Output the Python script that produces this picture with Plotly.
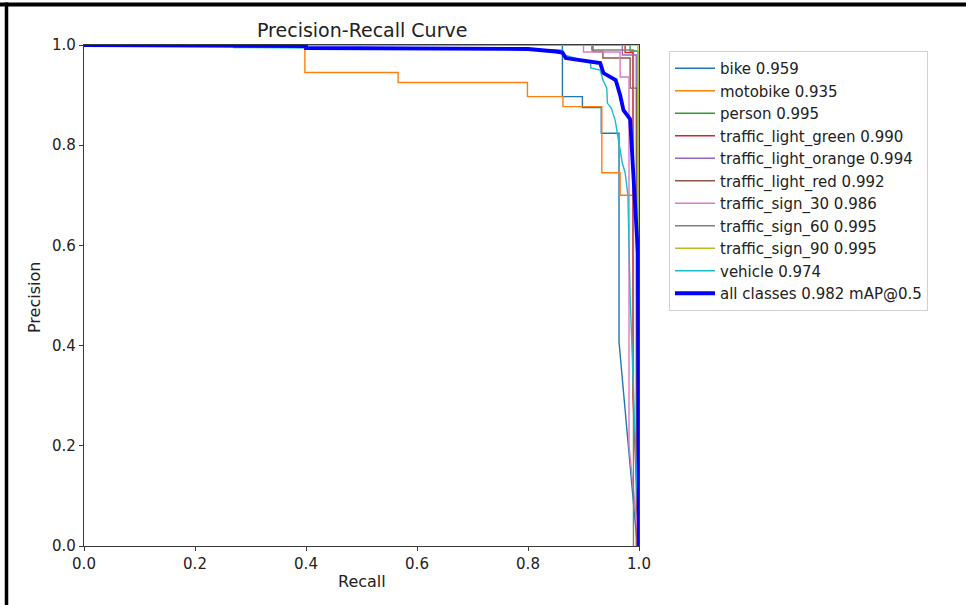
import plotly.graph_objects as go

# ---- data ----
bike_x = [0.0, 0.862, 0.862, 0.898, 0.898, 0.932, 0.932, 0.964, 0.964, 0.997]
bike_y = [1.0, 1.0, 0.897, 0.897, 0.875, 0.875, 0.824, 0.824, 0.407, 0.0]

moto_x = [0.0, 0.398, 0.398, 0.566, 0.566, 0.799, 0.799, 0.863, 0.863, 0.933, 0.933, 0.966, 0.966, 0.996, 0.996]
moto_y = [1.0, 1.0, 0.945, 0.945, 0.925, 0.925, 0.897, 0.897, 0.877, 0.877, 0.745, 0.745, 0.70, 0.70, 0.0]

person_x = [0.0, 0.984, 0.984, 0.998, 0.998]
person_y = [1.0, 1.0, 0.988, 0.988, 0.0]

tl_green_x = [0.0, 0.975, 0.975, 0.989, 0.989, 1.0]
tl_green_y = [1.0, 1.0, 0.985, 0.985, 0.30, 0.0]

tl_orange_x = [0.0, 0.970, 0.970, 0.995, 0.995]
tl_orange_y = [1.0, 1.0, 0.980, 0.980, 0.0]

tl_red_x = [0.0, 0.917, 0.917, 0.935, 0.935, 0.984, 0.984, 0.996, 0.996]
tl_red_y = [1.0, 1.0, 0.987, 0.987, 0.974, 0.974, 0.914, 0.914, 0.0]

ts30_x = [0.0, 0.900, 0.900, 0.966, 0.966, 0.982, 0.982, 1.0]
ts30_y = [1.0, 1.0, 0.986, 0.986, 0.936, 0.936, 0.20, 0.0]

ts60_x = [0.0, 0.915, 0.915, 0.990, 0.990]
ts60_y = [1.0, 1.0, 0.990, 0.990, 0.0]

ts90_x = [0.0, 0.998, 0.998]
ts90_y = [1.0, 1.0, 0.0]

vehicle_x = [0.0, 0.27, 0.27, 0.862, 0.866, 0.913, 0.913, 0.930, 0.935, 0.942, 0.943, 0.950, 0.957, 0.962, 0.966, 0.970, 0.975, 0.980, 0.984, 0.990, 1.0]
vehicle_y = [1.0, 1.0, 0.995, 0.99, 0.98, 0.964, 0.954, 0.950, 0.930, 0.914, 0.884, 0.874, 0.850, 0.816, 0.790, 0.764, 0.745, 0.70, 0.50, 0.30, 0.0]

all_x = [0.0, 0.40, 0.40, 0.80, 0.85, 0.862, 0.868, 0.930, 0.936, 0.958, 0.966, 0.972, 0.984, 0.990, 0.998, 1.0]
all_y = [1.0, 0.998, 0.994, 0.992, 0.987, 0.985, 0.974, 0.964, 0.944, 0.930, 0.900, 0.870, 0.852, 0.730, 0.585, 0.0]

names = ["bike 0.959", "motobike 0.935", "person 0.995", "traffic_light_green 0.990",
         "traffic_light_orange 0.994", "traffic_light_red 0.992", "traffic_sign_30 0.986",
         "traffic_sign_60 0.995", "traffic_sign_90 0.995", "vehicle 0.974"]
colors = ["#1f77b4", "#ff7f0e", "#2ca02c", "#d62728", "#9467bd", "#8c564b",
          "#e377c2", "#7f7f7f", "#bcbd22", "#17becf"]
xs = [bike_x, moto_x, person_x, tl_green_x, tl_orange_x, tl_red_x, ts30_x, ts60_x, ts90_x, vehicle_x]
ys = [bike_y, moto_y, person_y, tl_green_y, tl_orange_y, tl_red_y, ts30_y, ts60_y, ts90_y, vehicle_y]

x_ticks = [0.0, 0.2, 0.4, 0.6, 0.8, 1.0]
y_ticks = [0.0, 0.2, 0.4, 0.6, 0.8, 1.0]
tick_text = ["0.0", "0.2", "0.4", "0.6", "0.8", "1.0"]

FONT = "DejaVu Sans"

fig = go.Figure()
for x, y, n, c in zip(xs, ys, names, colors):
    fig.add_trace(go.Scatter(x=x, y=y, mode="lines", name=n,
                             line=dict(color=c, width=1.4)))
fig.add_trace(go.Scatter(x=all_x, y=all_y, mode="lines", name="all classes 0.982 mAP@0.5",
                         line=dict(color="#0000ff", width=3.8)))

W, H = 966, 605
L, R, T, B = 84, 639, 45, 546

def px(xp):
    return (xp - L) / (R - L)

def py(yp):
    return (B - yp) / (B - T)

axis_common = dict(range=[0, 1], showgrid=False, zeroline=False, showline=True,
                   mirror=True, linecolor="#3a3a3a", linewidth=1.2,
                   ticks="outside", ticklen=4, tickwidth=1, tickcolor="#3a3a3a",
                   tickvals=x_ticks, ticktext=tick_text,
                   tickfont=dict(family=FONT, size=15, color="#222222"))

fig.update_layout(
    width=W, height=H,
    margin=dict(l=L, r=W - R, t=T, b=H - B),
    paper_bgcolor="white", plot_bgcolor="white",
    font=dict(family=FONT, color="#222222"),
    xaxis=dict(axis_common),
    yaxis=dict(axis_common, tickvals=y_ticks),
    showlegend=True,
    legend=dict(x=px(669), y=py(51), xanchor="left", yanchor="top",
                bgcolor="white", bordercolor="#d0d0d0", borderwidth=1,
                font=dict(family=FONT, size=15, color="#222222"),
                itemwidth=40, tracegroupgap=0),
    annotations=[
        dict(text="Precision-Recall Curve", x=px(361.5), y=py(30), xref="paper", yref="paper",
             showarrow=False, font=dict(family=FONT, size=19, color="#222222"),
             xanchor="center", yanchor="middle"),
        dict(text="Recall", x=px(361.5), y=py(581), xref="paper", yref="paper",
             showarrow=False, font=dict(family=FONT, size=16, color="#222222"),
             xanchor="center", yanchor="middle"),
        dict(text="Precision", x=px(34), y=py(298), xref="paper", yref="paper",
             showarrow=False, textangle=-90, font=dict(family=FONT, size=16, color="#222222"),
             xanchor="center", yanchor="middle"),
    ],
    shapes=[
        dict(type="line", xref="paper", yref="paper", x0=px(0), x1=px(W), y0=py(4.5), y1=py(4.5),
             line=dict(color="black", width=4)),
        dict(type="line", xref="paper", yref="paper", x0=px(6.5), x1=px(6.5), y0=py(2.5), y1=py(H),
             line=dict(color="black", width=3.5)),
    ],
)

fig.write_html("out.html", config={"displayModeBar": False},
               post_script="document.body.style.margin='0';document.body.style.overflow='hidden';")
